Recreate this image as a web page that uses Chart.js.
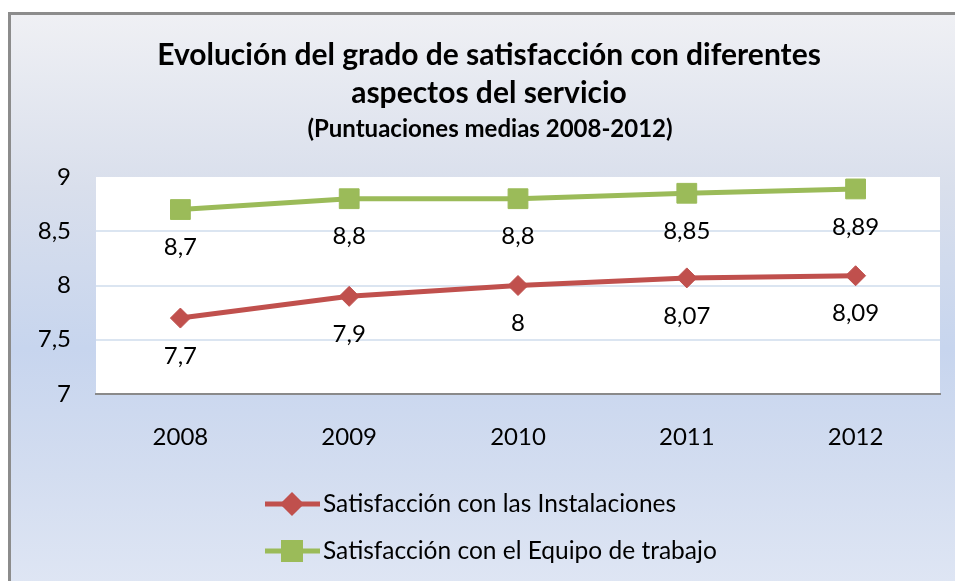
<!DOCTYPE html>
<html>
<head>
<meta charset="utf-8">
<script src="https://cdn.jsdelivr.net/npm/chart.js@4"></script>
<style>
  html, body { margin: 0; padding: 0; overflow: hidden; width: 955px; height: 581px; }
  #frame {
    position: absolute; left: 8px; top: 12px; width: 1000px; height: 575px;
    border: 3px solid #8c8c8c;
    background: linear-gradient(to bottom, #eff0f4 0%, #d9dfec 30%, #c7d5ee 58%, #d3ddf0 80%, #dfe6f4 100%);
  }
  #chart { position: absolute; left: 0; top: 0; }
</style>
</head>
<body>
<div id="frame"></div>
<canvas id="chart" width="955" height="581"></canvas>
<script>
// Daten aus dem Diagramm
const years = ["2008", "2009", "2010", "2011", "2012"];
const instalaciones = [7.7, 7.9, 8, 8.07, 8.09];
const equipo = [8.7, 8.8, 8.8, 8.85, 8.89];
const yTicks = [7, 7.5, 8, 8.5, 9];

const titleLines = ["Evolución del grado de satisfacción con diferentes", "aspectos del servicio"];
const subtitle = "(Puntuaciones medias 2008-2012)";

const FONT = "Lato, 'Noto Sans', sans-serif";
const TXT = 24; // normale Schriftgröße
const fmt = v => String(v).replace(".", ",");

// Hintergrund der Zeichenfläche + Titel + Beschriftungen + Legende
const decorPlugin = {
    id: "decor",
    beforeDraw(chart) {
        const { ctx, chartArea: a } = chart;
        ctx.save();
        ctx.fillStyle = "#ffffff";
        ctx.fillRect(a.left, a.top, a.right - a.left, a.bottom - a.top);
        ctx.restore();
    },
    afterDraw(chart) {
        const ctx = chart.ctx;
        ctx.save();
        ctx.fillStyle = "#000";
        ctx.textAlign = "center";
        ctx.textBaseline = "middle";
        ctx.font = "bold 30px " + FONT;
        ctx.fillText(titleLines[0], 489, 55);
        ctx.fillText(titleLines[1], 489, 93);
        ctx.font = "bold 24px " + FONT;
        ctx.fillText(subtitle, 490, 129);

        // Datenbeschriftungen unter den Punkten
        ctx.font = TXT + "px " + FONT;
        chart.data.datasets.forEach((ds, i) => {
            chart.getDatasetMeta(i).data.forEach((pt, j) => {
                ctx.fillText(fmt(ds.data[j]), pt.x, pt.y + 38);
            });
        });

        // Legende (Marker etwas kleiner als im Diagramm)
        const legendY = [504, 551];
        const legendRadius = [8.5, 12];
        chart.data.datasets.forEach((ds, i) => {
            const y = legendY[i];
            ctx.strokeStyle = ds.borderColor;
            ctx.lineWidth = 5;
            ctx.beginPath();
            ctx.moveTo(265, y);
            ctx.lineTo(320, y);
            ctx.stroke();
            Chart.helpers.drawPoint(ctx, {
                pointStyle: ds.pointStyle, radius: legendRadius[i], borderWidth: 1
            }, 292, y);
            ctx.fillStyle = ds.borderColor;
            ctx.fill();
            ctx.fillStyle = "#000";
            ctx.textAlign = "left";
            ctx.font = "24.5px " + FONT;
            ctx.fillText(ds.label, 323, y);
        });
        ctx.restore();
    }
};

new Chart(document.getElementById("chart"), {
    type: "line",
    data: {
        labels: years,
        datasets: [
            {
                label: "Satisfacción con las Instalaciones",
                data: instalaciones,
                borderColor: "#c0504d",
                backgroundColor: "#c0504d",
                borderWidth: 5,
                pointStyle: "rectRot",
                pointRadius: 10,
                pointBorderWidth: 1
            },
            {
                label: "Satisfacción con el Equipo de trabajo",
                data: equipo,
                borderColor: "#9bbb59",
                backgroundColor: "#9bbb59",
                borderWidth: 5,
                pointStyle: "rect",
                pointRadius: 14,
                pointBorderWidth: 1
            }
        ]
    },
    options: {
        responsive: false,
        animation: false,
        layout: { padding: { left: 0, top: 177, right: 15, bottom: 127 } },
        plugins: {
            legend: { display: false },
            title: { display: false },
            tooltip: { enabled: false }
        },
        scales: {
            x: {
                offset: true,
                grid: { display: false, drawTicks: false },
                border: { display: true, color: "#8a8a8a", width: 2 },
                ticks: { color: "#000", padding: 29, font: { family: FONT, size: TXT } },
                afterFit: s => { s.height = 60; }
            },
            y: {
                min: 7,
                max: 9,
                afterBuildTicks: s => { s.ticks = yTicks.map(v => ({ value: v })); },
                grid: {
                    drawTicks: false,
                    lineWidth: 2,
                    color: c => (c.tick && (c.tick.value === 9 || c.tick.value === 7)) ? "rgba(0,0,0,0)" : "#dbe5f1"
                },
                border: { display: false },
                ticks: {
                    color: "#000",
                    padding: 25,
                    font: { family: FONT, size: TXT },
                    callback: v => fmt(v)
                },
                afterFit: s => { s.width = 96; }
            }
        }
    },
    plugins: [decorPlugin]
});
</script>
</body>
</html>
